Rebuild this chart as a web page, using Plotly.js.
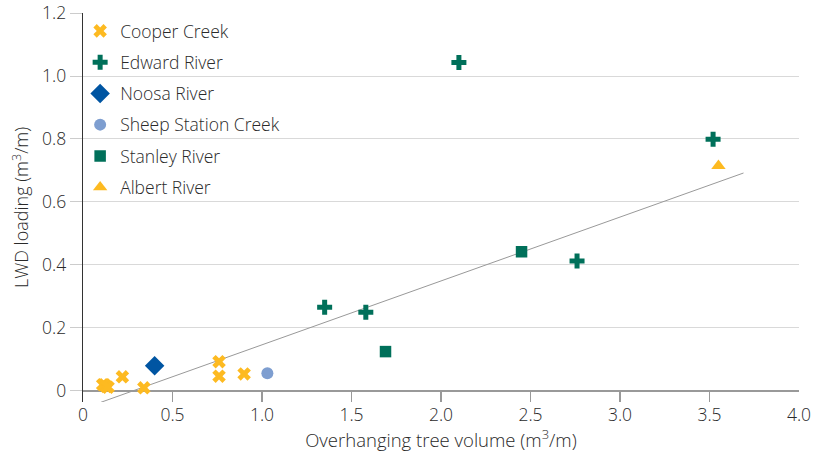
<!DOCTYPE html>
<html><head><meta charset="utf-8">
<script src="https://cdn.plot.ly/plotly-3.0.1.min.js"></script>
<style>html,body{margin:0;padding:0;background:#fff}#chart{width:827px;height:454px}</style>
</head><body><div id="chart"></div>
<script>
// Data
var cooperX = [0.11, 0.12, 0.13, 0.14, 0.22, 0.34, 0.76, 0.76, 0.90];
var cooperY = [0.020, 0.020, 0.014, 0.012, 0.045, 0.010, 0.093, 0.047, 0.054];
var edwardX = [1.35, 1.58, 2.10, 2.76, 3.52];
var edwardY = [0.266, 0.250, 1.043, 0.413, 0.799];
var noosaX = [0.40];
var noosaY = [0.080];
var sheepX = [1.03];
var sheepY = [0.056];
var stanleyX = [1.69, 2.45];
var stanleyY = [0.125, 0.442];
var albertX = [3.55];
var albertY = [0.715];
var trendX = [0.10, 3.69];
var trendY = [-0.036, 0.692];
var xTicks = [0, 0.5, 1.0, 1.5, 2.0, 2.5, 3.0, 3.5, 4.0];
var xTickText = ['0', '0.5', '1.0', '1.5', '2.0', '2.5', '3.0', '3.5', '4.0'];
var yTicks = [0, 0.2, 0.4, 0.6, 0.8, 1.0, 1.2];
var yTickText = ['0', '0.2', '0.4', '0.6', '0.8', '1.0', '1.2'];

var FONT = 'Open Sans, Arial, sans-serif';
var TXT = '#2a2a2a';
var YEL = '#FDBA21', GRN = '#00705A', BLU = '#0055A2', LBL = '#7E9ED0';

function pts(name, x, y, sym, col, size, grp) {
  return {type: 'scatter', mode: 'markers', name: name, x: x, y: y, legendgroup: grp,
    marker: {symbol: sym, color: col, size: size, line: {width: 0}}, cliponaxis: false};
}
var data = [
  {type: 'scatter', mode: 'lines', x: trendX, y: trendY, showlegend: false,
   line: {color: '#999999', width: 1}, hoverinfo: 'skip'},
  pts('Cooper Creek', cooperX, cooperY, 'x', YEL, 12, 'a'),
  pts('Edward River', edwardX, edwardY, 'cross', GRN, 12.5, 'b'),
  pts('Noosa River', noosaX, noosaY, 'diamond', BLU, 15, 'c'),
  pts('Sheep Station Creek', sheepX, sheepY, 'circle', LBL, 12, 'd'),
  pts('Stanley River', stanleyX, stanleyY, 'square', GRN, 11.5, 'e'),
  pts('Albert River', albertX, albertY, 'triangle-up', YEL, 12.5, 'f')
];
var layout = {
  width: 827, height: 454,
  margin: {l: 83, r: 28, t: 13, b: 52},
  paper_bgcolor: '#fff', plot_bgcolor: '#fff',
  font: {family: FONT, size: 17.5, color: TXT, weight: 300},
  showlegend: true,
  legend: {x: -0.004, xanchor: 'left', y: 1.0, yanchor: 'top', bgcolor: 'rgba(0,0,0,0)',
    font: {family: FONT, size: 17.5, color: TXT, weight: 300}, tracegroupgap: 5.5, itemwidth: 30},
  xaxis: {range: [0, 4], tickvals: xTicks, ticktext: xTickText, showgrid: false,
    zeroline: false, showline: false, ticks: 'inside', ticklen: 11, tickcolor: '#999999', tickwidth: 1.5,
    tickfont: {size: 17.5, color: TXT, weight: 300},
    title: {text: 'Overhanging tree volume (m<sup>3</sup>/m)', font: {size: 18.5, color: TXT, weight: 300}, standoff: 6}},
  yaxis: {range: [-0.035, 1.2], tickvals: yTicks, ticktext: yTickText, showgrid: true,
    gridcolor: '#d9d9d9', gridwidth: 1, zeroline: true, zerolinecolor: '#999999', zerolinewidth: 1.5,
    showline: true, linecolor: '#333333', linewidth: 1.3, ticks: 'outside', ticklen: 12,
    tickcolor: '#cccccc', tickfont: {size: 17.5, color: TXT, weight: 300},
    title: {text: 'LWD loading (m<sup>3</sup>/m)', font: {size: 18, color: TXT, weight: 300}, standoff: 8}},
  hovermode: false
};
Plotly.newPlot('chart', data, layout, {displayModeBar: false, staticPlot: true});
</script></body></html>
